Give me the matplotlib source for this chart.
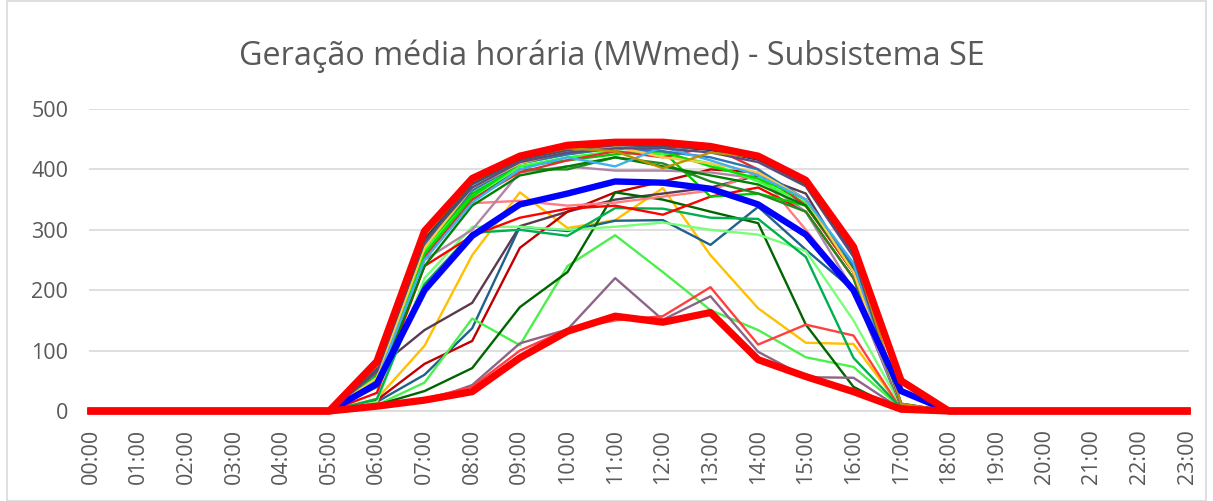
import matplotlib
matplotlib.use("Agg")
import matplotlib.pyplot as plt
import numpy as np

plt.rcParams['font.family'] = ['Open Sans', 'DejaVu Sans']

hours = [f"{h:02d}:00" for h in range(24)]
title = "Geração média horária (MWmed) - Subsistema SE"

def day(vals):
    # values for 06:00..17:00, zero elsewhere
    return [0] * 6 + list(vals) + [0] * 6

# thin daily lines: colors and values 06:00..17:00
thin_colors = [
    "#FFC000", "#5B3A50", "#1F618D", "#C00000", "#4CEF4C", "#006400",
    "#8E6486", "#FF4040", "#77FF77", "#00B050", "#FF7C80", "#FF0000",
    "#B085A5", "#00CC00", "#228B22", "#33FF33", "#E03030", "#00E000",
    "#008000", "#2E75B6", "#FFC845", "#41B0F0", "#1F3864", "#604A7B",
    "#44546A", "#BF9000",
]
thin_values = [
    [20, 108, 258, 362, 303, 316, 369, 258, 170, 113, 111, 5],
    [70, 134, 179, 306, 330, 350, 360, 370, 390, 360, 230, 10],
    [15, 60, 137, 305, 298, 315, 316, 275, 338, 267, 200, 5],
    [18, 78, 116, 270, 330, 362, 380, 400, 395, 340, 230, 8],
    [10, 47, 153, 109, 240, 291, 230, 167, 134, 89, 73, 5],
    [10, 33, 71, 172, 230, 362, 350, 330, 311, 143, 40, 0],
    [5, 15, 43, 112, 135, 220, 151, 190, 98, 56, 55, 3],
    [8, 20, 40, 100, 135, 150, 157, 205, 110, 143, 125, 3],
    [15, 220, 305, 305, 300, 305, 312, 300, 292, 265, 150, 8],
    [20, 210, 295, 300, 290, 336, 335, 320, 318, 255, 88, 5],
    [40, 265, 344, 348, 340, 345, 355, 365, 395, 300, 200, 10],
    [30, 240, 290, 320, 335, 340, 325, 355, 370, 330, 220, 8],
    [60, 250, 300, 395, 405, 398, 398, 395, 385, 330, 200, 8],
    [60, 270, 360, 405, 415, 425, 430, 355, 360, 340, 230, 10],
    [55, 260, 350, 400, 400, 420, 410, 380, 360, 330, 220, 8],
    [55, 265, 355, 405, 420, 430, 425, 410, 380, 345, 235, 8],
    [45, 255, 350, 395, 415, 430, 420, 438, 400, 340, 230, 8],
    [50, 260, 355, 410, 425, 436, 430, 405, 385, 350, 240, 10],
    [40, 240, 340, 390, 405, 420, 405, 390, 375, 340, 235, 8],
    [65, 275, 365, 410, 425, 435, 430, 420, 400, 350, 240, 10],
    [55, 270, 370, 410, 430, 438, 420, 410, 395, 350, 230, 10],
    [50, 250, 345, 400, 420, 405, 437, 415, 390, 350, 245, 10],
    [70, 285, 378, 418, 435, 442, 440, 432, 416, 376, 260, 12],
    [65, 280, 370, 412, 428, 435, 435, 428, 412, 372, 255, 10],
    [70, 280, 375, 415, 432, 440, 438, 434, 418, 374, 262, 12],
    [75, 290, 380, 420, 435, 430, 402, 428, 420, 378, 266, 12],
]

max_values = [82, 298, 385, 422, 440, 445, 445, 438, 422, 382, 272, 50]
mean_values = [45, 200, 290, 342, 360, 380, 378, 368, 342, 292, 200, 33]
min_values = [8, 18, 32, 88, 132, 157, 147, 163, 85, 57, 32, 3]

W, H = 1213, 501
fig = plt.figure(figsize=(W / 100, H / 100), dpi=100)
ax = fig.add_axes([89 / W, 1 - 411 / H, (1189 - 89) / W, (411 - 109) / H])

x = np.arange(24)
for c, v in zip(thin_colors, thin_values):
    ax.plot(x, day(v), color=c, lw=1.7, solid_joinstyle='round', clip_on=False, zorder=3)

ax.plot(x, day(mean_values), color="#0000FF", lw=4.6, solid_joinstyle='round', clip_on=False, zorder=4)
ax.plot(x, day(max_values), color="#FF0000", lw=5.2, solid_joinstyle='round', clip_on=False, zorder=5)
ax.plot(x, day(min_values), color="#FF0000", lw=5.2, solid_joinstyle='round', clip_on=False, zorder=5)

ax.set_xlim(-0.04, 23.04)
ax.set_ylim(0, 500)
ax.set_yticks([0, 100, 200, 300, 400, 500])
ax.set_xticks(x)
ax.set_xticklabels(hours, rotation=90)
ax.grid(axis='y', color='#D9D9D9', lw=1.2, zorder=0)
ax.set_axisbelow(True)
for s in ['top', 'right', 'left']:
    ax.spines[s].set_visible(False)
ax.spines['bottom'].set_color('#D9D9D9')
ax.spines['bottom'].set_linewidth(1.2)
ax.tick_params(axis='both', length=0, colors='#595959', labelsize=15.5)
ax.tick_params(axis='x', pad=13)
ax.tick_params(axis='y', pad=15)

fig.text(612 / W, 1 - 65 / H, title, ha='center', va='baseline', fontsize=23.3, color='#595959')

# chart area border
fig.patches.append(plt.Rectangle((7 / W, 0), 1 - 14 / W, 1 - 1 / H, transform=fig.transFigure,
                                 fill=False, edgecolor='#D9D9D9', lw=1.2))

fig.savefig("out.png", dpi=100)
